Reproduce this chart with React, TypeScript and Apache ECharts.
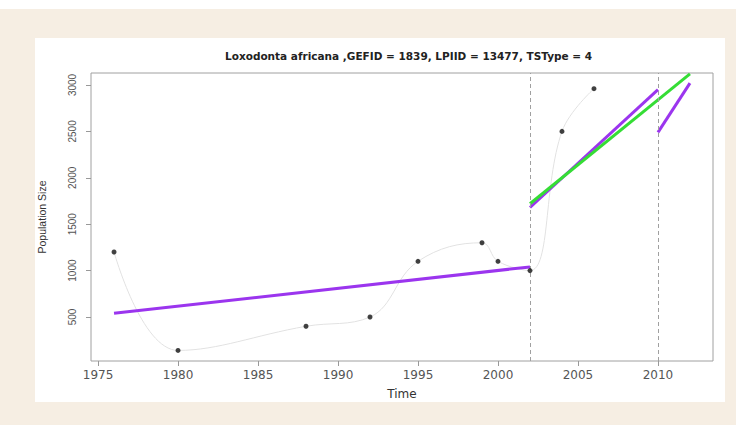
import React, { useEffect, useRef } from "react";
import * as echarts from "echarts";

const titleText = "Loxodonta africana ,GEFID = 1839, LPIID = 13477, TSType = 4";
const years = [1976, 1980, 1988, 1992, 1995, 1999, 2000, 2002, 2004, 2006];
const popSize = [1200, 140, 400, 500, 1100, 1300, 1100, 1000, 2500, 2960];
const xTicks = [1975, 1980, 1985, 1990, 1995, 2000, 2005, 2010];
const yTicks = [500, 1000, 1500, 2000, 2500, 3000];
const breakYears = [2002, 2010];
const purple1 = [[1976, 540], [2002, 1040]];
const purple2 = [[2002, 1680], [2010, 2950]];
const purple3 = [[2010, 2490], [2012, 3020]];
const green1 = [[2002, 1720], [2012, 3120]];

export default function App() {
  const ref = useRef<HTMLDivElement>(null);
  useEffect(() => {
    const chart = echarts.init(ref.current!, null, { renderer: "svg" });
    const font = "'Liberation Sans', Arial, sans-serif";
    const wide = "'DejaVu Sans', 'Liberation Sans', sans-serif";
    const lineSeries = (data: number[][], color: string, z: number) => ({
      type: "line",
      data,
      showSymbol: false,
      symbol: "none",
      lineStyle: { color, width: 3 },
      z,
    });
    chart.setOption({
      animation: false,
      backgroundColor: "transparent",
      title: {
        text: titleText,
        left: 220,
        top: 45,
        textStyle: { fontFamily: wide, fontSize: 10.5, fontWeight: "bold", color: "#222" },
      },
      grid: { left: 91, right: 23, top: 73, bottom: 64, show: true, borderColor: "#a0a0a0", borderWidth: 1 },
      xAxis: {
        type: "value",
        min: 1974.56,
        max: 2013.44,
        name: "Time",
        nameLocation: "middle",
        nameGap: 27,
        nameTextStyle: { fontFamily: wide, fontSize: 12, color: "#333" },
        axisLine: { show: false },
        axisTick: { show: true, length: 5, lineStyle: { color: "#999" }, customValues: xTicks },
        axisLabel: { fontFamily: wide, fontSize: 12, color: "#555", margin: 8, customValues: xTicks, formatter: (v: number) => String(v) },
        splitLine: { show: false },
      },
      yAxis: {
        type: "value",
        min: 26,
        max: 3129,
        name: "Population Size",
        nameLocation: "middle",
        nameRotate: 90,
        nameGap: 44,
        nameTextStyle: { fontFamily: font, fontSize: 10.5, color: "#333" },
        axisLine: { show: false },
        axisTick: { show: true, length: 5, lineStyle: { color: "#999" }, customValues: yTicks },
        axisLabel: { fontFamily: font, fontSize: 10, color: "#555", rotate: 90, margin: 14, customValues: yTicks, formatter: (v: number) => String(v) },
        splitLine: { show: false },
      },
      series: [
        {
          type: "line",
          data: years.map((y, i) => [y, popSize[i]]),
          smooth: 0.4,
          showSymbol: false,
          symbol: "none",
          lineStyle: { color: "#e2e2e2", width: 1 },
          z: 1,
          markLine: {
            silent: true,
            symbol: "none",
            label: { show: false },
            lineStyle: { color: "#a0a0a0", type: [4, 3], width: 1 },
            data: breakYears.map((b) => ({ xAxis: b })),
          },
        },
        lineSeries(purple1, "#9b35ee", 3),
        lineSeries(purple2, "#9b35ee", 3),
        lineSeries(purple3, "#9b35ee", 3),
        lineSeries(green1, "#35dd35", 4),
        {
          type: "scatter",
          data: years.map((y, i) => [y, popSize[i]]),
          symbolSize: 5,
          itemStyle: { color: "#111" },
          z: 5,
        },
      ],
    });
    return () => chart.dispose();
  }, []);
  return (
    <div style={{ position: "fixed", left: 0, top: 0, width: 736, height: 425, background: "#ffffff" }}>
      <div style={{ position: "absolute", left: 0, top: 9, width: 736, height: 416, background: "#f6eee3" }} />
      <div style={{ position: "absolute", left: 35, top: 38, width: 690, height: 364, background: "#ffffff" }} />
      <div ref={ref} style={{ position: "absolute", left: 0, top: 0, width: 736, height: 425 }} />
    </div>
  );
}
